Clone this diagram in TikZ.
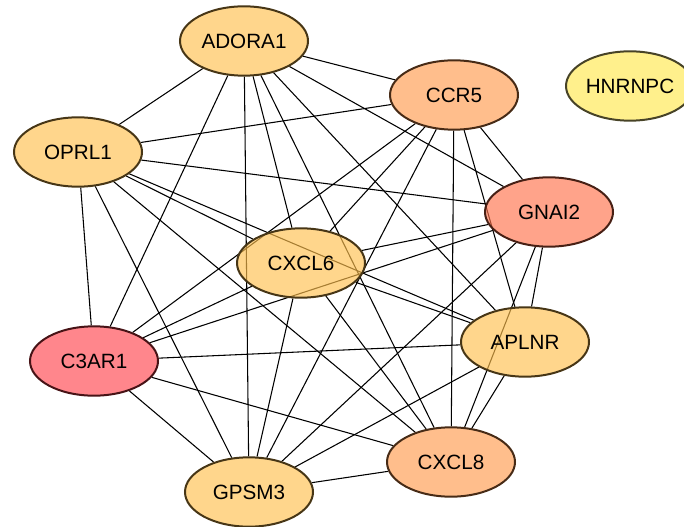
\documentclass[tikz,border=0pt]{standalone}
\usepackage{fontspec}
\setmainfont{Liberation Sans}
\usetikzlibrary{shapes.geometric,backgrounds}
% fills are set so that, at 0.65 opacity on white, they give the shown colours
\definecolor{geneorange}{RGB}{255,192,78}
\definecolor{genepeach}{RGB}{255,155,78}
\definecolor{genesalmon}{RGB}{255,114,75}
\definecolor{genepink}{RGB}{255,69,78}
\definecolor{geneyellow}{RGB}{255,240,140}
\tikzset{
  gene/.style={ellipse, draw=#1!28!black, fill=#1, fill opacity=0.65,
    text opacity=1, line width=1.5pt, minimum width=96pt,
    minimum height=52pt, inner sep=0pt, font=\fontsize{15.5}{18}\selectfont},
  link/.style={line width=0.8pt, black}
}

\begin{document}
\begin{tikzpicture}[x=0.75pt, y=-0.75pt]
  \useasboundingbox (0, 0) rectangle (684, 527);

  % genes
  \node [gene=geneorange] (adora1) at (244, 41){ADORA1};
  \node [gene=genepeach] (ccr5) at (454, 95){CCR5};
  \node [gene=geneyellow, fill opacity=1] (hnrnpc) at (630, 86){HNRNPC};
  \node [gene=geneorange] (oprl1) at (78, 152){OPRL1};
  \node [gene=genesalmon] (gnai2) at (549, 212){GNAI2};
  \node [gene=geneorange] (cxcl6) at (301, 263){CXCL6};
  \node [gene=geneorange] (aplnr) at (525, 342){APLNR};
  \node [gene=genepink] (c3ar1) at (94, 361){C3AR1};
  \node [gene=genepeach] (cxcl8) at (451, 462){CXCL8};
  \node [gene=geneorange] (gpsm3) at (249, 492){GPSM3};

  \begin{scope}[on background layer]
    % ADORA1 links
    \draw [link] (adora1) -- (ccr5) (adora1) -- (oprl1) (adora1) -- (gnai2)
      (adora1) -- (cxcl6) (adora1) -- (aplnr) (adora1) -- (c3ar1)
      (adora1) -- (cxcl8) (adora1) -- (gpsm3);
    % CCR5 links
    \draw [link] (ccr5) -- (oprl1) (ccr5) -- (gnai2) (ccr5) -- (cxcl6)
      (ccr5) -- (aplnr) (ccr5) -- (c3ar1) (ccr5) -- (cxcl8) (ccr5) -- (gpsm3);
    % OPRL1 links
    \draw [link] (oprl1) -- (gnai2) (oprl1) -- (cxcl6) (oprl1) -- (aplnr)
      (oprl1) -- (c3ar1) (oprl1) -- (cxcl8) (oprl1) -- (gpsm3);
    % GNAI2 links
    \draw [link] (gnai2) -- (cxcl6) (gnai2) -- (aplnr) (gnai2) -- (c3ar1)
      (gnai2) -- (cxcl8) (gnai2) -- (gpsm3);
    % CXCL6 links
    \draw [link] (cxcl6) -- (aplnr) (cxcl6) -- (c3ar1) (cxcl6) -- (cxcl8)
      (cxcl6) -- (gpsm3);
    % APLNR links
    \draw [link] (aplnr) -- (c3ar1) (aplnr) -- (cxcl8) (aplnr) -- (gpsm3);
    % C3AR1 links
    \draw [link] (c3ar1) -- (cxcl8) (c3ar1) -- (gpsm3);
    % CXCL8 links
    \draw [link] (cxcl8) -- (gpsm3);
  \end{scope}
\end{tikzpicture}
\end{document}
